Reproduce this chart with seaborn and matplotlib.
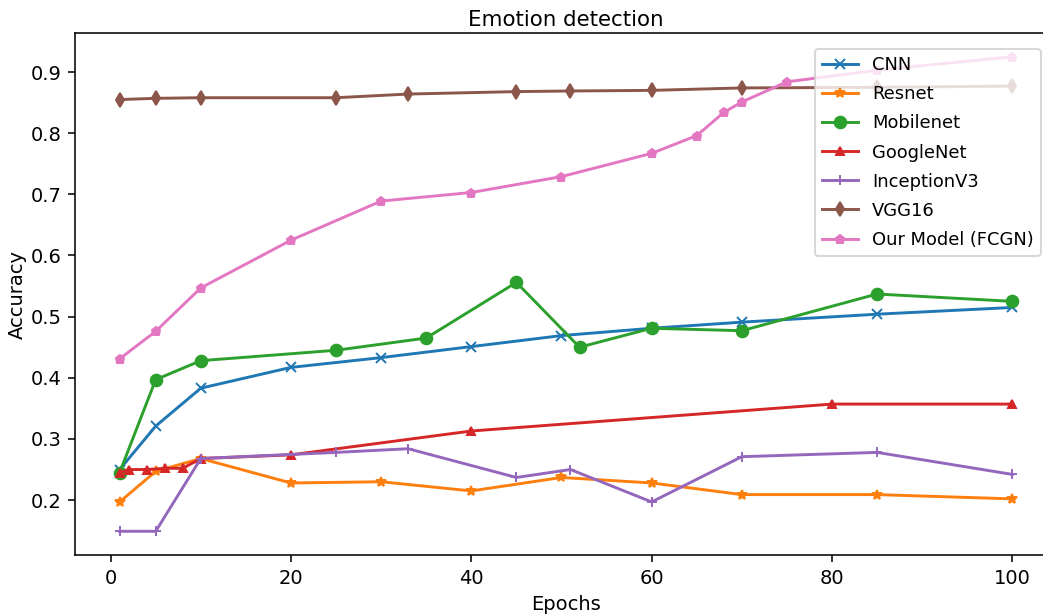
import matplotlib
matplotlib.use("Agg")
import matplotlib.pyplot as plt
import seaborn as sns
import pandas as pd

# Accuracy per epoch for each model
cnn_epochs = [1, 5, 10, 20, 30, 40, 50, 60, 70, 85, 100]
cnn_acc = [0.250, 0.321, 0.383, 0.417, 0.433, 0.451, 0.469, 0.481, 0.491, 0.504, 0.515]

resnet_epochs = [1, 5, 10, 20, 30, 40, 50, 60, 70, 85, 100]
resnet_acc = [0.197, 0.247, 0.268, 0.228, 0.230, 0.215, 0.237, 0.228, 0.209, 0.209, 0.202]

mobilenet_epochs = [1, 5, 10, 25, 35, 45, 52, 60, 70, 85, 100]
mobilenet_acc = [0.245, 0.397, 0.428, 0.445, 0.465, 0.556, 0.450, 0.481, 0.477, 0.537, 0.525]

googlenet_epochs = [1, 2, 4, 6, 8, 10, 20, 40, 80, 100]
googlenet_acc = [0.245, 0.250, 0.250, 0.252, 0.252, 0.268, 0.274, 0.313, 0.357, 0.357]

inception_epochs = [1, 5, 10, 25, 33, 45, 51, 60, 70, 85, 100]
inception_acc = [0.149, 0.149, 0.268, 0.278, 0.284, 0.237, 0.250, 0.197, 0.271, 0.278, 0.242]

vgg_epochs = [1, 5, 10, 25, 33, 45, 51, 60, 70, 85, 100]
vgg_acc = [0.855, 0.857, 0.858, 0.858, 0.864, 0.868, 0.869, 0.870, 0.874, 0.875, 0.877]

fcgn_epochs = [1, 5, 10, 20, 30, 40, 50, 60, 65, 68, 70, 75, 85, 100]
fcgn_acc = [0.431, 0.476, 0.547, 0.625, 0.689, 0.703, 0.729, 0.767, 0.796, 0.834, 0.851, 0.884, 0.903, 0.925]

models = ["CNN", "Resnet", "Mobilenet", "GoogleNet", "InceptionV3", "VGG16", "Our Model (FCGN)"]
markers = ["x", "*", "o", "^", "+", "d", "p"]
marker_sizes = [5, 5.5, 6, 4.5, 5.5, 5, 4.5]
series = [
    (cnn_epochs, cnn_acc),
    (resnet_epochs, resnet_acc),
    (mobilenet_epochs, mobilenet_acc),
    (googlenet_epochs, googlenet_acc),
    (inception_epochs, inception_acc),
    (vgg_epochs, vgg_acc),
    (fcgn_epochs, fcgn_acc),
]

frames = []
for name, (ep, acc) in zip(models, series):
    frames.append(pd.DataFrame({"Epochs": ep, "Accuracy": acc, "Model": name}))
df = pd.concat(frames, ignore_index=True)

palette = sns.color_palette("tab10", len(models))

fig = plt.figure(figsize=(1043 / 140, 616 / 140), dpi=140)
ax = fig.add_axes([0.0719, 0.099, 0.9415, 0.8474])

for name, mk, ms, col in zip(models, markers, marker_sizes, palette):
    sub = df[df["Model"] == name]
    sns.lineplot(data=sub, x="Epochs", y="Accuracy", ax=ax, color=col,
                 marker=mk, markersize=ms, markeredgecolor=col,
                 markeredgewidth=1.0, linewidth=1.5, label=name)

ax.set_title("Emotion detection", fontsize=11, pad=3.5)
ax.set_xlabel("Epochs")
ax.set_ylabel("Accuracy", labelpad=2)
ax.legend(loc="upper right", fontsize=9.2, labelspacing=0.62,
          borderaxespad=0.9)

fig.savefig("out.png", dpi=140)
